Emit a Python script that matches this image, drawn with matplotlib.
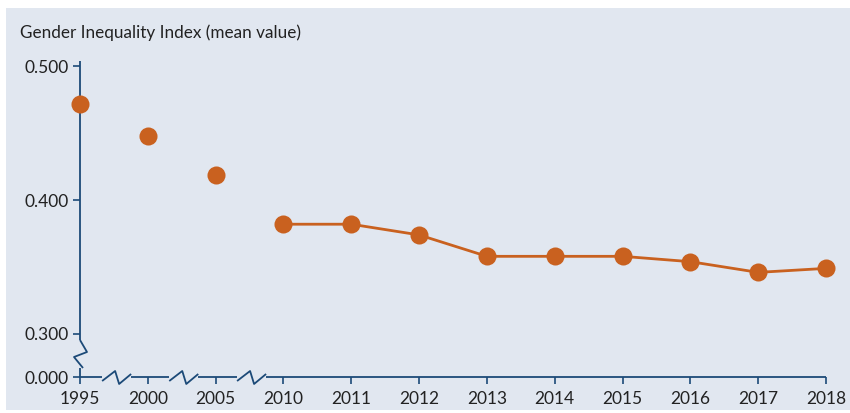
import numpy as np
import matplotlib
matplotlib.use('Agg')
import matplotlib.pyplot as plt
import matplotlib.transforms as mtransforms
from matplotlib.patches import Rectangle

years = ['1995', '2000', '2005', '2010', '2011', '2012', '2013', '2014',
         '2015', '2016', '2017', '2018']
gii = [0.472, 0.448, 0.419, 0.382, 0.382, 0.374, 0.358, 0.358, 0.358,
       0.354, 0.346, 0.349]
yticks = [0.0, 0.3, 0.4, 0.5]
ytick_labels = ['0.000', '0.300', '0.400', '0.500']

bg = '#E1E7F0'
navy = '#1C4A78'
orange = '#C9611F'
txt = '#222222'

plt.rcParams['font.family'] = ['Lato', 'DejaVu Sans']

W, H = 850, 413
fig = plt.figure(figsize=(W / 100, H / 100), dpi=100)
fig.patch.set_facecolor('white')
fig.add_artist(Rectangle((6 / W, 3 / H), 844 / W, 402 / H,
                         transform=fig.transFigure, facecolor=bg,
                         edgecolor='none', zorder=0))

# broken y-axis: 0 -> 0.3 squeezed into a short stub
low = 0.2678


def fwd(v):
    v = np.asarray(v, dtype=float)
    return np.where(v >= 0.3, v, low + v * (0.3 - low) / 0.3)


def inv(v):
    v = np.asarray(v, dtype=float)
    return np.where(v >= 0.3, v, (v - low) * 0.3 / (0.3 - low))


ax_l, ax_r = 80, 826
ax_top, ax_bot = 61, 377
ax = fig.add_axes([ax_l / W, (H - ax_bot) / H, (ax_r - ax_l) / W,
                   (ax_bot - ax_top) / H])
ax.set_facecolor('none')
ax.set_yscale('function', functions=(fwd, inv))
x = np.arange(len(years))
ax.set_xlim(0, len(years) - 1)
ax.set_ylim(0, 0.504)

# only the annual series from 2010 on is joined by a line
ax.plot(x[3:], gii[3:], color=orange, lw=2.0, zorder=3, clip_on=False)
ax.plot(x, gii, 'o', color=orange, ms=13, mec='none', zorder=4, clip_on=False)

ax.set_xticks(x)
ax.set_xticklabels(years)
ax.set_yticks(yticks)
ax.set_yticklabels(ytick_labels)
ax.yaxis.set_minor_locator(matplotlib.ticker.NullLocator())
ax.tick_params(axis='both', colors=navy, labelcolor=txt, labelsize=12.5,
               length=5, width=1.2, direction='out', pad=3)
ax.tick_params(axis='x', pad=5)
for s in ax.spines.values():
    s.set_visible(False)

# hand-drawn axis lines with break marks
px_w = (ax_r - ax_l)
px_h = (ax_bot - ax_top)
xpx = 1 / px_w * (len(years) - 1)   # one pixel in x data units
ypx = 1 / px_h                      # one pixel in axes fraction
bt = mtransforms.blended_transform_factory(ax.transData, ax.transAxes)
lk = dict(color=navy, lw=1.3, clip_on=False, zorder=2, solid_capstyle='butt')

breaks = [0.54, 1.53, 2.53]
edges = [0] + [v for b in breaks for v in (b - 14.5 * xpx, b + 14.5 * xpx)] + [len(years) - 1]
for a, b in zip(edges[::2], edges[1::2]):
    ax.plot([a, b], [0, 0], transform=bt, **lk)
for b in breaks:
    zx = [b - 14.5 * xpx, b - 1.5 * xpx, b + 2.5 * xpx, b + 14.5 * xpx]
    zy = [-4 * ypx, 6 * ypx, -7 * ypx, 3 * ypx]
    ax.plot(zx, zy, transform=bt, **lk)

ax.plot([0, 0], [1, 37 * ypx], transform=bt, **lk)
ax.plot([0, 7 * xpx, -6 * xpx, 3 * xpx], [37 * ypx, 25 * ypx, 20 * ypx, 9 * ypx],
        transform=bt, **lk)
ax.plot([0, 0], [9 * ypx, 0], transform=bt, **lk)

fig.text(20 / W, 1 - 33 / H, 'Gender Inequality Index (mean value)',
         fontsize=12.3, color=txt, va='center', ha='left')

fig.savefig('out.png', dpi=100, facecolor=fig.get_facecolor())
